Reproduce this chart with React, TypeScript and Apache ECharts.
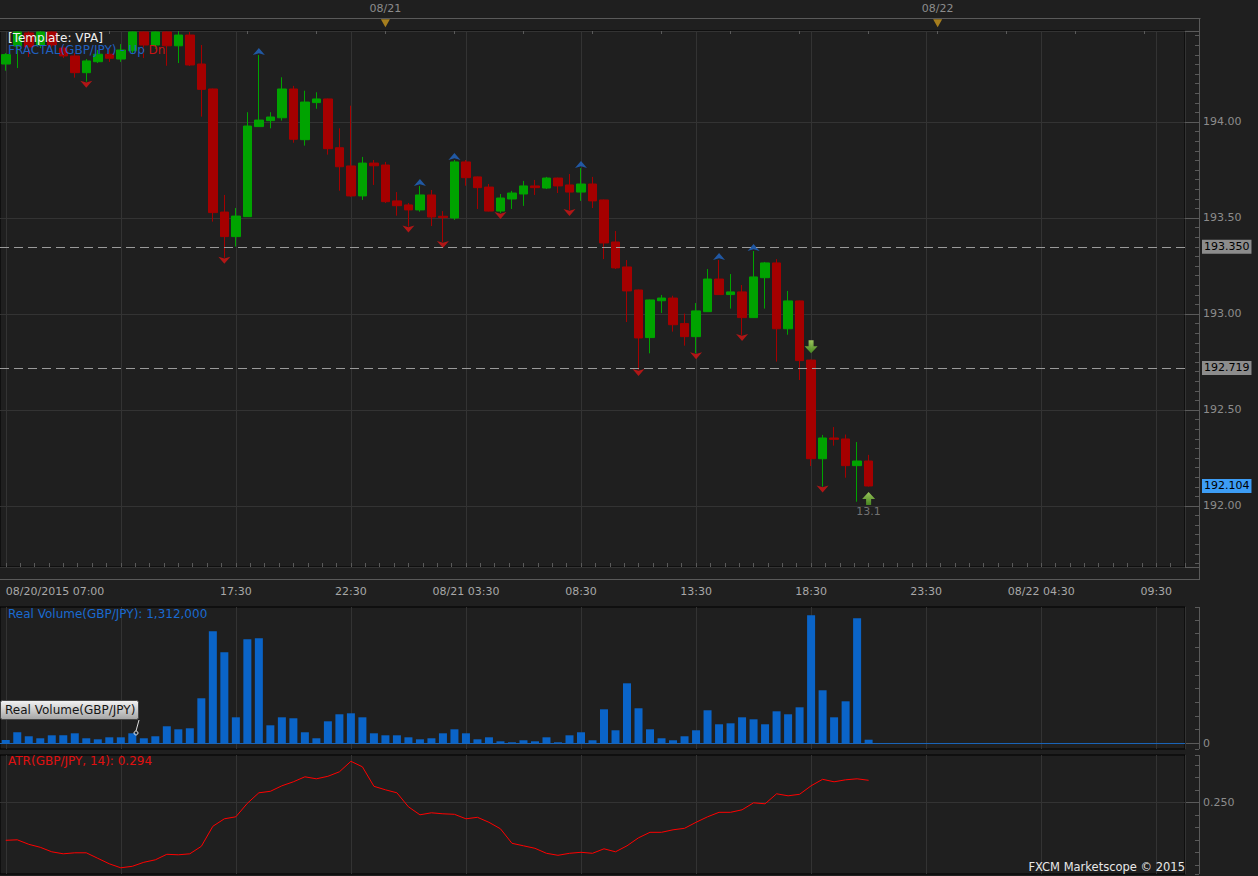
import React, { useEffect, useRef } from "react";
import * as echarts from "echarts";

// ---------- DATA ----------
const SLOT_COUNT = 103; // 30-minute slots shown on the time axis

// [open, high, low, close]
const candles: number[][] = [
  [194.302, 194.359, 194.267, 194.351],
  [194.396, 194.472, 194.281, 194.469],
  [194.464, 194.472, 194.339, 194.391],
  [194.401, 194.472, 194.385, 194.469],
  [194.469, 194.472, 194.375, 194.401],
  [194.385, 194.401, 194.333, 194.344],
  [194.344, 194.359, 194.231, 194.257],
  [194.257, 194.328, 194.21, 194.318],
  [194.314, 194.375, 194.307, 194.353],
  [194.353, 194.38, 194.313, 194.332],
  [194.328, 194.406, 194.313, 194.375],
  [194.371, 194.472, 194.353, 194.469],
  [194.469, 194.472, 194.333, 194.401],
  [194.401, 194.472, 194.38, 194.469],
  [194.469, 194.472, 194.293, 194.397],
  [194.397, 194.472, 194.307, 194.453],
  [194.453, 194.469, 194.292, 194.297],
  [194.302, 194.401, 194.028, 194.17],
  [194.172, 194.174, 193.481, 193.528],
  [193.531, 193.62, 193.293, 193.403],
  [193.403, 193.552, 193.351, 193.51],
  [193.507, 194.051, 193.505, 193.979],
  [193.976, 194.349, 193.974, 194.01],
  [194.007, 194.051, 193.967, 194.026],
  [194.022, 194.233, 194.007, 194.172],
  [194.172, 194.188, 193.892, 193.91],
  [193.908, 194.163, 193.877, 194.104],
  [194.101, 194.155, 194.069, 194.12],
  [194.12, 194.122, 193.83, 193.861],
  [193.866, 193.967, 193.642, 193.767],
  [193.771, 194.085, 193.611, 193.615],
  [193.615, 193.818, 193.594, 193.786],
  [193.786, 193.802, 193.672, 193.772],
  [193.776, 193.792, 193.578, 193.585],
  [193.589, 193.635, 193.512, 193.564],
  [193.568, 193.578, 193.455, 193.542],
  [193.542, 193.667, 193.533, 193.62],
  [193.62, 193.646, 193.458, 193.505],
  [193.509, 193.536, 193.375, 193.502],
  [193.5, 193.802, 193.49, 193.792],
  [193.792, 193.802, 193.668, 193.71],
  [193.714, 193.716, 193.547, 193.658],
  [193.661, 193.677, 193.534, 193.536],
  [193.536, 193.625, 193.526, 193.604],
  [193.599, 193.641, 193.547, 193.63],
  [193.625, 193.693, 193.563, 193.667],
  [193.667, 193.698, 193.62, 193.658],
  [193.656, 193.714, 193.651, 193.708],
  [193.708, 193.71, 193.63, 193.667],
  [193.672, 193.729, 193.542, 193.635],
  [193.635, 193.76, 193.589, 193.677],
  [193.677, 193.714, 193.552, 193.589],
  [193.594, 193.596, 193.286, 193.37],
  [193.375, 193.432, 193.234, 193.24],
  [193.245, 193.281, 192.958, 193.12],
  [193.125, 193.127, 192.708, 192.875],
  [192.877, 193.075, 192.795, 193.073],
  [193.069, 193.099, 193.005, 193.083],
  [193.083, 193.095, 192.908, 192.944],
  [192.95, 193.002, 192.835, 192.882],
  [192.882, 193.057, 192.795, 193.016],
  [193.012, 193.234, 193.01, 193.182],
  [193.182, 193.281, 193.099, 193.101],
  [193.101, 193.208, 193.028, 193.115],
  [193.115, 193.151, 192.891, 192.981],
  [192.981, 193.328, 192.979, 193.193],
  [193.189, 193.271, 193.028, 193.266],
  [193.266, 193.286, 192.752, 192.923],
  [192.923, 193.12, 192.892, 193.068],
  [193.068, 193.07, 192.656, 192.757],
  [192.76, 192.762, 192.208, 192.246],
  [192.246, 192.37, 192.101, 192.354],
  [192.354, 192.411, 192.314, 192.347],
  [192.349, 192.372, 192.147, 192.21],
  [192.21, 192.333, 192.022, 192.234],
  [192.234, 192.266, 192.101, 192.104],
];

// real volume, thousands
const volumes: number[] = [
  1200, 4020, 2560, 1830, 2920, 2920, 3650, 1830, 1460, 2190,
  2190, 3650, 1830, 2560, 6210, 5110, 5480, 16430, 40880, 33220,
  9490, 37960, 38330, 6570, 9490, 9130, 4020, 1830, 8030, 10590,
  10950, 9490, 3650, 2920, 2920, 2190, 1460, 1830, 3650, 5110,
  3650, 1460, 2190, 730, 370, 1100, 730, 2190, 370, 2920,
  4020, 1100, 12410, 4750, 21900, 12780, 5110, 1830, 1100, 2560,
  4750, 12050, 6940, 7300, 9490, 8760, 6940, 11680, 10590, 13140,
  46720, 19350, 9490, 15330, 45630, 1312,
];

const atr: number[] = [
  0.174, 0.175, 0.166, 0.16, 0.151, 0.147, 0.149, 0.149, 0.138, 0.127,
  0.119, 0.122, 0.13, 0.135, 0.146, 0.145, 0.147, 0.162, 0.202, 0.217,
  0.221, 0.248, 0.269, 0.272, 0.283, 0.291, 0.301, 0.297, 0.302, 0.311,
  0.332, 0.321, 0.282, 0.275, 0.269, 0.241, 0.225, 0.229, 0.227, 0.226,
  0.217, 0.22, 0.21, 0.197, 0.168, 0.163, 0.158, 0.148, 0.144, 0.148,
  0.15, 0.148, 0.157, 0.151, 0.163, 0.179, 0.19, 0.19, 0.195, 0.198,
  0.21, 0.221, 0.23, 0.23, 0.235, 0.249, 0.247, 0.267, 0.263, 0.266,
  0.283, 0.296, 0.291, 0.295, 0.297, 0.294,
];

const fractalUp = [22, 36, 39, 50, 62, 65];
const fractalDown = [7, 19, 35, 38, 43, 49, 55, 60, 64, 71];
const vpaDown = [70];
const vpaUp = [75];
const vpaUpText = ["13.1"];
const levelLines = [193.35, 192.719];

const timeTicks: [number, string][] = [
  [0, "08/20/2015 07:00"],
  [20, "17:30"],
  [30, "22:30"],
  [40, "08/21 03:30"],
  [50, "08:30"],
  [60, "13:30"],
  [70, "18:30"],
  [80, "23:30"],
  [90, "08/22 04:30"],
  [100, "09:30"],
];
const dayMarks: [number, string][] = [
  [33, "08/21"],
  [81, "08/22"],
];

const PRICE_MIN = 191.682;
const PRICE_MAX = 194.474;
const VOL_MIN = -2080;
const VOL_MAX = 49750;
const ATR_MIN = 0.1066;
const ATR_MAX = 0.3446;

// ---------- STYLE ----------
const BG = "#1f1f1f";
const GRID = "#333333";
const FRAME = "#5a5a5a";
const AXIS_TXT = "#8c8c8c";
const FONT = "DejaVu Sans";
const UP = "#00a300";
const DOWN = "#a50000";

export default function App() {
  const ref = useRef<HTMLDivElement>(null);

  useEffect(() => {
    document.body.style.margin = "0";
    document.body.style.background = BG;
    if (!ref.current) return;
    const chart = echarts.init(ref.current, undefined, { renderer: "svg" });

    const plotW = 1185;
    const bw = plotW / SLOT_COUNT;
    const cats = Array.from({ length: SLOT_COUNT }, (_, i) => String(i));
    const topCats = Array.from({ length: SLOT_COUNT + 1 }, (_, i) => String(i));
    const tickMap = new Map<number, string>(timeTicks);
    const dayMap = new Map<number, string>(dayMarks);
    const helperMax = 10 + SLOT_COUNT - 0.5;

    const lastClose = candles[candles.length - 1][3];
    const volText =
      "Real Volume(GBP/JPY): " +
      (volumes[volumes.length - 1] * 1000).toLocaleString("en-US");
    const atrText = "ATR(GBP/JPY, 14): " + atr[atr.length - 1].toFixed(3);

    const arrowGrad = () =>
      new echarts.graphic.LinearGradient(0, 0, 0, 1, [
        { offset: 0, color: "#b8ec6a" },
        { offset: 1, color: "#4e9e1e" },
      ]);

    const helperX = (gridIndex: number, ticks: boolean) => ({
      gridIndex,
      type: "value",
      min: 10,
      max: helperMax,
      interval: 10,
      offset: 12,
      axisLine: { show: false },
      axisLabel: { show: false },
      axisTick: { show: ticks, inside: true, length: 4, lineStyle: { color: FRAME } },
      minorTick: { show: ticks, splitNumber: 8, length: 4, lineStyle: { color: FRAME } },
      splitLine: { show: true, lineStyle: { color: GRID, width: 1 } },
    });
    const plainCat = (gridIndex: number) => ({
      gridIndex,
      type: "category",
      data: cats,
      boundaryGap: true,
      axisLine: { show: false },
      axisTick: { show: false },
      axisLabel: { show: false },
      splitLine: { show: false },
    });
    const hiddenY = (gridIndex: number) => ({
      gridIndex,
      type: "value",
      min: 0,
      max: 1,
      show: false,
    });

    const option: any = {
      animation: false,
      backgroundColor: BG,
      textStyle: { fontFamily: FONT },
      grid: [
        { left: 0, width: bw * (SLOT_COUNT + 1), top: 18, height: 13 },
        { left: 0, width: plotW, top: 31, height: 536, show: true, borderColor: "#000", borderWidth: 1, backgroundColor: "transparent" },
        { left: bw / 2, width: plotW - bw / 2, top: 31, height: 536 },
        { left: 0, width: plotW, top: 607, height: 142, show: true, borderColor: "#000", borderWidth: 1, backgroundColor: "transparent" },
        { left: bw / 2, width: plotW - bw / 2, top: 607, height: 142 },
        { left: 0, width: plotW, top: 755, height: 119, show: true, borderColor: "#000", borderWidth: 1, backgroundColor: "transparent" },
        { left: bw / 2, width: plotW - bw / 2, top: 755, height: 119 },
      ],
      xAxis: [
        {
          gridIndex: 0,
          type: "category",
          data: topCats,
          position: "top",
          boundaryGap: true,
          axisLine: { show: false },
          axisTick: {
            show: true,
            inside: true,
            length: 3,
            alignWithLabel: true,
            interval: (i: number) => i >= 3 && (i - 3) % 6 === 0,
            lineStyle: { color: FRAME },
          },
          axisLabel: {
            interval: (i: number) => dayMap.has(i),
            formatter: (v: string) => dayMap.get(Number(v)) || "",
            color: AXIS_TXT,
            fontSize: 11,
            fontFamily: FONT,
            margin: 4,
          },
          splitLine: { show: false },
        },
        {
          gridIndex: 1,
          type: "category",
          data: cats,
          boundaryGap: true,
          offset: 12,
          axisLine: { show: false },
          axisTick: { show: false },
          splitLine: { show: false },
          axisLabel: {
            interval: (i: number) => tickMap.has(i),
            formatter: (v: string) => tickMap.get(Number(v)) || "",
            color: "#a8a8a8",
            fontSize: 11,
            fontFamily: FONT,
            margin: 7,
            alignMinLabel: "left",
          },
        },
        helperX(2, true),
        plainCat(3),
        helperX(4, false),
        plainCat(5),
        helperX(6, false),
      ],
      yAxis: [
        hiddenY(0),
        {
          gridIndex: 1,
          type: "value",
          position: "right",
          offset: 14,
          min: PRICE_MIN,
          max: PRICE_MAX,
          splitNumber: 5,
          axisLine: { show: false },
          axisTick: { show: true, inside: true, length: 14, lineStyle: { color: FRAME } },
          minorTick: { show: true, splitNumber: 10, length: 4, lineStyle: { color: FRAME } },
          axisLabel: {
            color: AXIS_TXT,
            fontSize: 11,
            fontFamily: FONT,
            margin: 4,
            showMinLabel: false,
            showMaxLabel: false,
            formatter: (v: number) =>
              Math.abs(v * 2 - Math.round(v * 2)) < 1e-6 ? v.toFixed(2) : "",
          },
          splitLine: { show: true, lineStyle: { color: GRID } },
        },
        hiddenY(2),
        {
          gridIndex: 3,
          type: "value",
          position: "right",
          offset: 14,
          min: VOL_MIN,
          max: VOL_MAX,
          axisLine: { show: false },
          axisTick: { show: true, inside: true, length: 4, lineStyle: { color: FRAME } },
          minorTick: { show: true, splitNumber: 2, length: 4, lineStyle: { color: FRAME } },
          axisLabel: {
            color: AXIS_TXT,
            fontSize: 11,
            fontFamily: FONT,
            margin: 4,
            showMinLabel: false,
            showMaxLabel: false,
            formatter: (v: number) => (Math.abs(v) < 1e-9 ? "0" : ""),
          },
          splitLine: { show: false },
        },
        hiddenY(4),
        {
          gridIndex: 5,
          type: "value",
          position: "right",
          offset: 14,
          min: ATR_MIN,
          max: ATR_MAX,
          axisLine: { show: false },
          axisTick: { show: true, inside: true, length: 4, lineStyle: { color: FRAME } },
          minorTick: { show: true, splitNumber: 2, length: 4, lineStyle: { color: FRAME } },
          axisLabel: {
            color: AXIS_TXT,
            fontSize: 11,
            fontFamily: FONT,
            margin: 4,
            showMinLabel: false,
            showMaxLabel: false,
            formatter: (v: number) => (Math.abs(v - 0.25) < 1e-9 ? "0.250" : ""),
          },
          splitLine: { show: false },
        },
        hiddenY(6),
      ],
      series: [
        {
          type: "scatter",
          name: "dayMarks",
          xAxisIndex: 0,
          yAxisIndex: 0,
          data: dayMarks.map((d) => [d[0], 0.6]),
          symbol: "triangle",
          symbolRotate: 180,
          symbolSize: [9, 8],
          itemStyle: { color: "#c8961e" },
          clip: false,
          silent: true,
        },
        {
          type: "candlestick",
          name: "GBP/JPY",
          xAxisIndex: 1,
          yAxisIndex: 1,
          barWidth: 9,
          clip: false,
          data: candles.map(([o, h, l, c]) => [o, c, l, h]),
          itemStyle: {
            color: UP,
            color0: DOWN,
            borderColor: UP,
            borderColor0: DOWN,
            borderWidth: 1,
          },
          markLine: {
            silent: true,
            symbol: ["none", "none"],
            precision: 3,
            label: {
              show: true,
              position: "end",
              distance: 17,
              color: "#000",
              fontSize: 11,
              fontFamily: FONT,
              padding: [2, 2, 1, 2],
              formatter: (p: any) => p.name,
            },
            data: [
              ...levelLines.map((v) => ({
                name: v.toFixed(3),
                yAxis: v,
                lineStyle: { color: "#9a9a9a", type: [9, 5], width: 1 },
                label: { backgroundColor: "#8c8c8c" },
              })),
              {
                name: lastClose.toFixed(3),
                yAxis: lastClose,
                lineStyle: { color: "rgba(0,0,0,0)", width: 0 },
                label: { backgroundColor: "#3d9df5" },
              },
            ],
          },
        },
        {
          type: "scatter",
          name: "FRACTAL Up",
          xAxisIndex: 1,
          yAxisIndex: 1,
          data: fractalUp.map((i) => [i, candles[i][1]]),
          symbol: "arrow",
          symbolSize: [9, 7],
          symbolOffset: [0, -7],
          itemStyle: { color: "#2266c4" },
          clip: false,
          silent: true,
        },
        {
          type: "scatter",
          name: "FRACTAL Dn",
          xAxisIndex: 1,
          yAxisIndex: 1,
          data: fractalDown.map((i) => [i, candles[i][2]]),
          symbol: "arrow",
          symbolRotate: 180,
          symbolSize: [9, 7],
          symbolOffset: [0, 6],
          itemStyle: { color: "#d41414" },
          clip: false,
          silent: true,
        },
        {
          type: "scatter",
          name: "VPA down",
          xAxisIndex: 1,
          yAxisIndex: 1,
          data: vpaDown.map((i) => [i, candles[i][1]]),
          symbol: "path://M4,0 L9,0 L9,6 L13,6 L6.5,13 L0,6 L4,6 Z",
          symbolSize: [13, 13],
          symbolOffset: [0, -13],
          itemStyle: { color: arrowGrad() },
          clip: false,
          silent: true,
        },
        {
          type: "scatter",
          name: "VPA up",
          xAxisIndex: 1,
          yAxisIndex: 1,
          data: vpaUp.map((i, k) => ({
            value: [i, candles[i][2]],
            label: { show: true, formatter: vpaUpText[k] },
          })),
          symbol: "path://M6.5,0 L13,7 L9,7 L9,13 L4,13 L4,7 L0,7 Z",
          symbolSize: [13, 13],
          symbolOffset: [0, 12],
          itemStyle: { color: arrowGrad() },
          label: {
            position: "bottom",
            distance: 1,
            color: "#8a8a8a",
            fontSize: 11,
            fontFamily: FONT,
          },
          clip: false,
          silent: true,
        },
        {
          type: "bar",
          name: "Real Volume",
          xAxisIndex: 3,
          yAxisIndex: 3,
          data: volumes,
          barWidth: 8,
          itemStyle: { color: "#0a64c8" },
          silent: true,
          markLine: {
            silent: true,
            symbol: ["none", "none"],
            label: { show: false },
            lineStyle: { color: "#1a64b8", type: "solid", width: 1 },
            data: [{ yAxis: 0 }],
          },
        },
        {
          type: "line",
          name: "ATR",
          xAxisIndex: 5,
          yAxisIndex: 5,
          data: atr,
          symbol: "none",
          lineStyle: { color: "#ff0000", width: 1 },
          silent: true,
          z: 3,
          markLine: {
            silent: true,
            symbol: ["none", "none"],
            label: { show: false },
            lineStyle: { color: GRID, type: "solid", width: 1 },
            data: [{ yAxis: 0.25 }],
            z: 1,
          },
        },
      ],
      graphic: [
        { type: "line", z: 1, shape: { x1: 0, y1: 18.5, x2: 1200.5, y2: 18.5 }, style: { stroke: FRAME, lineWidth: 1 } },
        { type: "line", z: 1, shape: { x1: 1199.5, y1: 18, x2: 1199.5, y2: 579 }, style: { stroke: FRAME, lineWidth: 1 } },
        { type: "line", z: 1, shape: { x1: 0, y1: 579.5, x2: 1200, y2: 579.5 }, style: { stroke: FRAME, lineWidth: 1 } },
        { type: "line", z: 1, shape: { x1: 1199.5, y1: 607, x2: 1199.5, y2: 749 }, style: { stroke: FRAME, lineWidth: 1 } },
        { type: "line", z: 1, shape: { x1: 1199.5, y1: 755, x2: 1199.5, y2: 874 }, style: { stroke: FRAME, lineWidth: 1 } },
        { type: "line", z: 1, shape: { x1: 1186, y1: 743.5, x2: 1200, y2: 743.5 }, style: { stroke: FRAME, lineWidth: 1 } },
        { type: "line", z: 1, shape: { x1: 1186, y1: 802.5, x2: 1200, y2: 802.5 }, style: { stroke: FRAME, lineWidth: 1 } },
        {
          type: "text",
          z: 20,
          x: 8,
          y: 32,
          style: { text: "[Template: VPA]", fill: "#f0f0f0", font: `12px "${FONT}"`, textVerticalAlign: "top" },
        },
        {
          type: "text",
          z: 20,
          x: 8,
          y: 44,
          style: {
            text: "{b|FRACTAL(GBP/JPY) - Up} {r|Dn}",
            font: `12px "${FONT}"`,
            textVerticalAlign: "top",
            rich: {
              b: { fill: "#2060c0", font: `12px "${FONT}"` },
              r: { fill: "#c81414", font: `12px "${FONT}"` },
            },
          },
        },
        {
          type: "text",
          z: 20,
          x: 8,
          y: 608,
          style: { text: volText, fill: "#1a6ad0", font: `12px "${FONT}"`, textVerticalAlign: "top" },
        },
        {
          type: "text",
          z: 20,
          x: 8,
          y: 755,
          style: { text: atrText, fill: "#e01010", font: `12px "${FONT}"`, textVerticalAlign: "top" },
        },
        {
          type: "text",
          z: 20,
          x: 1185,
          y: 861,
          style: { text: "FXCM Marketscope © 2015", fill: "#e8e8e8", font: `11.5px "${FONT}"`, textAlign: "right", textVerticalAlign: "top" },
        },
        {
          type: "group",
          z: 30,
          x: 0,
          y: 700,
          children: [
            {
              type: "rect",
              z: 30,
              shape: { x: 0.5, y: 0.5, width: 138, height: 19, r: 2 },
              style: {
                fill: new echarts.graphic.LinearGradient(0, 0, 0, 1, [
                  { offset: 0, color: "#f4f4f4" },
                  { offset: 1, color: "#a4a4a4" },
                ]),
                stroke: "#444",
                lineWidth: 1,
              },
            },
            {
              type: "text",
              z: 31,
              x: 5,
              y: 10,
              style: { text: "Real Volume(GBP/JPY)", fill: "#151515", font: `12px "${FONT}"`, textVerticalAlign: "middle" },
            },
            {
              type: "polyline",
              z: 31,
              shape: { points: [[139, 20], [136, 31]] },
              style: { stroke: "#dddddd", lineWidth: 1, fill: "none" },
            },
            {
              type: "circle",
              z: 31,
              shape: { cx: 136, cy: 33, r: 2 },
              style: { fill: "none", stroke: "#dddddd", lineWidth: 1 },
            },
          ],
        },
      ],
    };

    chart.setOption(option);
    return () => chart.dispose();
  }, []);

  return <div ref={ref} style={{ width: 1258, height: 876 }} />;
}
